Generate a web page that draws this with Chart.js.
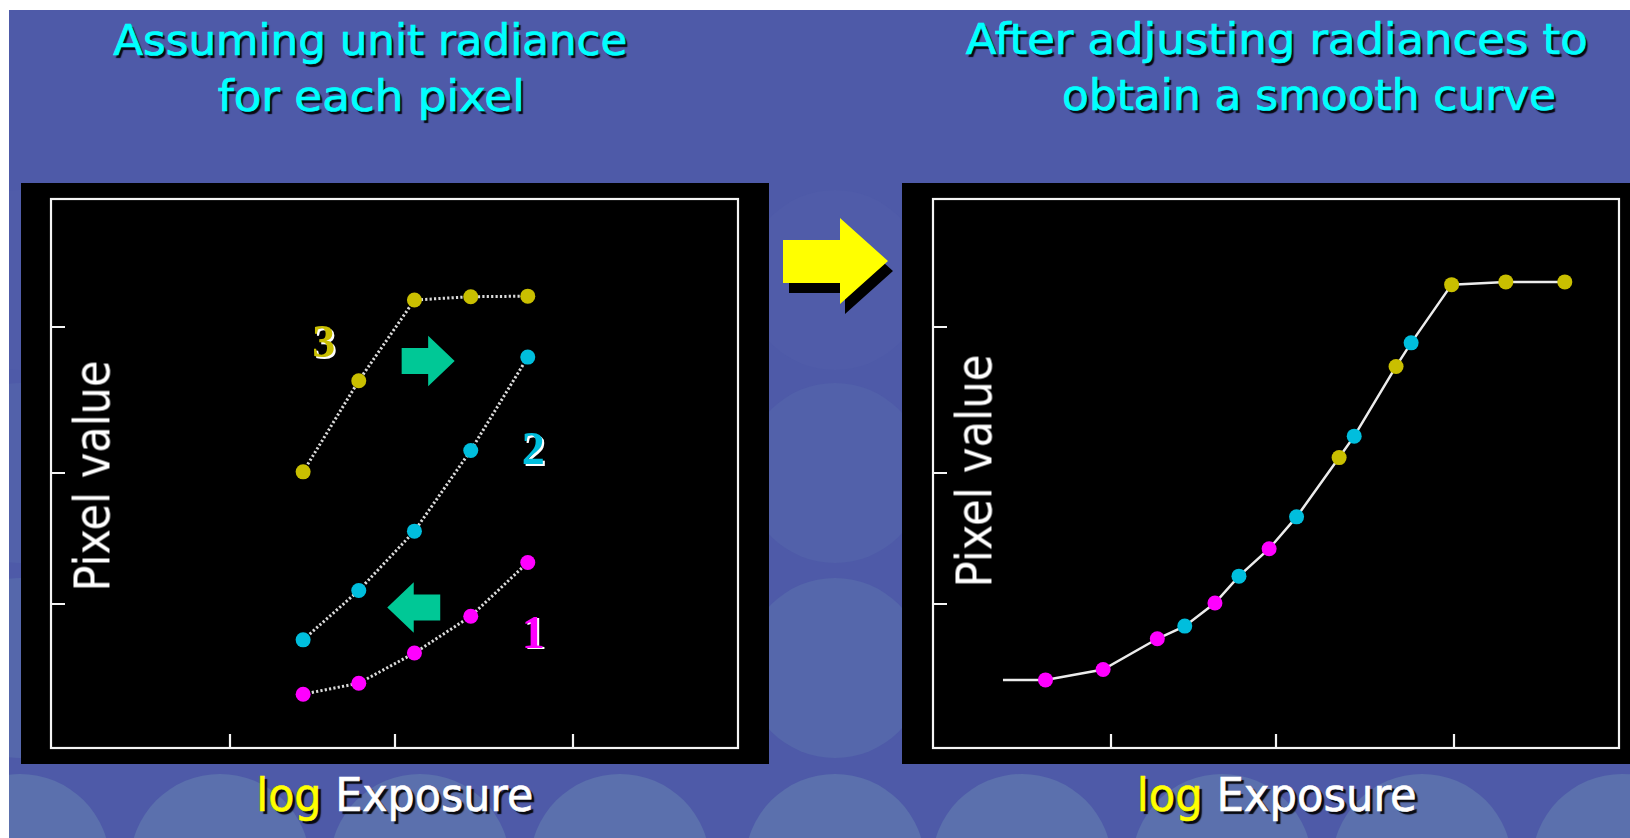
<!DOCTYPE html>
<html>
<head>
<meta charset="utf-8">
<title>Response curve recovery</title>
<script src="https://cdn.jsdelivr.net/npm/chart.js@4.4.1/dist/chart.umd.min.js"></script>
<style>
  html, body { margin: 0; padding: 0; background: #ffffff; }
  body { width: 1630px; height: 838px; overflow: hidden; position: relative; }
  #bg { position: absolute; left: 0; top: 0; }
  .panel { position: absolute; background: #000; }
  .panel canvas { display: block; }
  .txt {
    position: absolute; white-space: nowrap; line-height: 1;
    font-family: "DejaVu Sans Condensed", "DejaVu Sans", sans-serif;
    transform-origin: 50% 50%;
  }
  .title { color: #00ffff; -webkit-text-stroke: 0.7px #00ffff; text-shadow: 2px 3px 1px rgba(0,0,0,0.9); }
  .xlab { color: #ffffff; -webkit-text-stroke: 0.6px #ffffff; text-shadow: 3px 3px 1px rgba(0,0,0,0.9); }
  .xlab .log { color: #ffff00; -webkit-text-stroke: 0.6px #ffff00; }
  .ylab { color: #ffffff; }
</style>
</head>
<body>

<svg id="bg" width="1630" height="838" xmlns="http://www.w3.org/2000/svg">
  <defs>
    <clipPath id="slideClip"><rect x="9" y="10" width="1621" height="828"/></clipPath>
  </defs>
  <g clip-path="url(#slideClip)">
    <rect x="9" y="10" width="1621" height="828" fill="rgb(78,90,168)"/>
    <g id="dots"></g>
  </g>
  <!-- big arrow between the two panels -->
  <polygon points="789,250 845,250 845,228 893,271 845,314 845,293 789,293" fill="#000"/>
  <polygon points="783,240 840,240 840,218 888,261 840,304 840,283 783,283" fill="#ffff00"/>
</svg>

<div class="panel" style="left:21px;top:183px;width:748px;height:581px;">
  <canvas id="leftChart" width="748" height="581" style="width:748px;height:581px"></canvas>
</div>
<div class="panel" style="left:902px;top:183px;width:728px;height:581px;">
  <canvas id="rightChart" width="728" height="581" style="width:728px;height:581px"></canvas>
</div>

<div class="txt title" data-cx="370" data-base="55" data-w="514" data-fs="43">Assuming unit radiance</div>
<div class="txt title" data-cx="371.5" data-base="111" data-w="307" data-fs="43">for each pixel</div>
<div class="txt title" data-cx="1277" data-base="54" data-w="622" data-fs="43">After adjusting radiances to</div>
<div class="txt title" data-cx="1309" data-base="110" data-w="494" data-fs="43">obtain a smooth curve</div>

<div class="txt xlab" data-cx="394.5" data-base="810.7" data-w="277" data-fs="47"><span class="log">log</span> Exposure</div>
<div class="txt xlab" data-cx="1277" data-base="810.7" data-w="280" data-fs="47"><span class="log">log</span> Exposure</div>

<div class="txt ylab" data-cx="92.7" data-cy="476" data-w="231" data-fs="50" data-rot="1">Pixel value</div>
<div class="txt ylab" data-cx="974" data-cy="470.5" data-w="233" data-fs="50" data-rot="1">Pixel value</div>

<script>
// ---- values (both axes run 0..100 across the framed plot area) ----

// Left panel: every sample assumed to have unit radiance, so all share the same exposures
const exposureSteps = [36.7, 44.8, 52.9, 61.1, 69.4];
const pixel1Raw = [9.8, 11.8, 17.3, 24.0, 33.8];
const pixel2Raw = [19.7, 28.7, 39.5, 54.2, 71.2];
const pixel3Raw = [50.3, 66.9, 81.6, 82.2, 82.3];

// Right panel: exposures after the radiances were adjusted
const pixel1Exposure = [16.4, 24.8, 32.7, 41.1, 49.0];
const pixel1Value    = [12.4, 14.3, 19.9, 26.4, 36.3];
const pixel2Exposure = [36.7, 44.6, 53.0, 61.4, 69.7];
const pixel2Value    = [22.2, 31.3, 42.1, 56.8, 73.8];
const pixel3Exposure = [59.2, 67.5, 75.6, 83.5, 92.1];
const pixel3Value    = [52.9, 69.5, 84.4, 84.9, 84.9];
const curveStart     = [10.2, 12.4];

// tick marks on both frames
const xTickValues = [26, 50, 76];
const yTickValues = [26.3, 50.1, 76.6];

// sample numbers and the shift arrows on the left panel (data coordinates)
const sampleNames   = ['1', '2', '3'];
const sampleLabelX  = [70.2, 70.2, 39.7];
const sampleLabelY  = [21.1, 54.5, 74.0];
const shiftArrowX   = [54.9, 52.8];
const shiftArrowY   = [70.5, 25.6];
const shiftArrowDir = [1, -1];

// ---- styles ----
const COLORS = ['#ff00ff', '#00bedd', '#c9bf00'];
const ARROW_GREEN = '#00c896';

// background circles, fading out towards the top
(function () {
  const g = document.getElementById('dots');
  const rows = [[280, 'rgb(80,92,169)'], [473, 'rgb(82,97,170)'], [668, 'rgb(85,103,171)'], [864, 'rgb(91,112,173)']];
  const cols = [20, 220, 420, 620, 835, 1022, 1222, 1422, 1622];
  rows.forEach(([cy, fill]) => cols.forEach(cx => {
    const c = document.createElementNS('http://www.w3.org/2000/svg', 'circle');
    c.setAttribute('cx', cx); c.setAttribute('cy', cy); c.setAttribute('r', 90);
    c.setAttribute('fill', fill);
    g.appendChild(c);
  }));
})();

const zip = (xs, ys) => xs.map((x, i) => ({ x, y: ys[i] }));

const framePlugin = {
  id: 'frame',
  afterDraw(chart) {
    const { ctx, chartArea: a, scales: { x, y } } = chart;
    ctx.save();
    ctx.strokeStyle = '#f4f4f4';
    ctx.lineWidth = 2.2;
    ctx.strokeRect(a.left, a.top, a.right - a.left, a.bottom - a.top);
    ctx.beginPath();
    xTickValues.forEach(v => {
      const px = Math.round(x.getPixelForValue(v));
      ctx.moveTo(px, a.bottom); ctx.lineTo(px, a.bottom - 14);
    });
    yTickValues.forEach(v => {
      const py = Math.round(y.getPixelForValue(v));
      ctx.moveTo(a.left, py); ctx.lineTo(a.left + 14, py);
    });
    ctx.stroke();
    ctx.restore();
  }
};

const notesPlugin = {
  id: 'notes',
  afterDatasetsDraw(chart) {
    const { ctx, scales: { x, y } } = chart;
    ctx.save();
    shiftArrowX.forEach((ax, i) => {
      const cx = x.getPixelForValue(ax), cy = y.getPixelForValue(shiftArrowY[i]);
      const d = shiftArrowDir[i], L = 26.5, bh = 13, hh = 25.3;
      ctx.beginPath();
      ctx.moveTo(cx - L * d, cy - bh);
      ctx.lineTo(cx, cy - bh);
      ctx.lineTo(cx, cy - hh);
      ctx.lineTo(cx + L * d, cy);
      ctx.lineTo(cx, cy + hh);
      ctx.lineTo(cx, cy + bh);
      ctx.lineTo(cx - L * d, cy + bh);
      ctx.closePath();
      ctx.fillStyle = ARROW_GREEN;
      ctx.fill();
    });
    ctx.font = 'bold 46px "Liberation Serif", "DejaVu Serif", serif';
    ctx.textAlign = 'center';
    ctx.textBaseline = 'alphabetic';
    sampleNames.forEach((name, i) => {
      const cx = x.getPixelForValue(sampleLabelX[i]);
      const by = y.getPixelForValue(sampleLabelY[i]) + 15.5;
      ctx.fillStyle = '#ffffff';
      ctx.fillText(name, cx + 2, by + 1.5);
      ctx.fillStyle = COLORS[i];
      ctx.fillText(name, cx, by);
    });
    ctx.restore();
  }
};

const axisOpts = { type: 'linear', min: 0, max: 100, display: false };

function baseOptions(padding) {
  return {
    responsive: false,
    animation: false,
    events: [],
    layout: { padding },
    scales: { x: { ...axisOpts }, y: { ...axisOpts } },
    plugins: { legend: { display: false }, tooltip: { enabled: false } }
  };
}

// Left: dotted traces, one per pixel
new Chart(document.getElementById('leftChart'), {
  type: 'line',
  data: {
    datasets: [pixel1Raw, pixel2Raw, pixel3Raw].map((vals, i) => ({
      label: 'Pixel ' + sampleNames[i],
      data: zip(exposureSteps, vals),
      borderColor: '#dadada',
      borderWidth: 3,
      borderDash: [2.2, 2.2],
      borderCapStyle: 'butt',
      tension: 0,
      pointRadius: 7.5,
      pointBorderWidth: 0,
      pointBackgroundColor: COLORS[i],
      pointBorderColor: COLORS[i]
    }))
  },
  options: baseOptions({ left: 30, right: 31, top: 16, bottom: 16 }),
  plugins: [framePlugin, notesPlugin]
});

// Right: the recovered curve through all samples
const pieces = [
  zip(pixel1Exposure, pixel1Value),
  zip(pixel2Exposure, pixel2Value),
  zip(pixel3Exposure, pixel3Value)
];
const curve = [{ x: curveStart[0], y: curveStart[1] }]
  .concat(pieces[0], pieces[1], pieces[2])
  .sort((a, b) => a.x - b.x);

new Chart(document.getElementById('rightChart'), {
  type: 'line',
  data: {
    datasets: pieces.map((pts, i) => ({
      label: 'Pixel ' + sampleNames[i],
      data: pts,
      showLine: false,
      pointRadius: 7.5,
      pointBorderWidth: 0,
      pointBackgroundColor: COLORS[i],
      pointBorderColor: COLORS[i],
      order: 0
    })).concat([{
      label: 'Response curve',
      data: curve,
      borderColor: '#ececec',
      borderWidth: 2.5,
      tension: 0,
      pointRadius: 0,
      order: 5
    }])
  },
  options: baseOptions({ left: 31, right: 11, top: 16, bottom: 16 }),
  plugins: [framePlugin]
});

// text placement: centre each label and squeeze it to its width
function placeText() {
  document.querySelectorAll('.txt').forEach(el => {
    const fs = parseFloat(el.dataset.fs);
    el.style.fontSize = fs + 'px';
    el.style.transform = 'none';
    const w = el.getBoundingClientRect().width;
    const s = parseFloat(el.dataset.w) / w;
    const cx = parseFloat(el.dataset.cx);
    el.style.left = (cx - w / 2) + 'px';
    if (el.dataset.rot) {
      el.style.top = (parseFloat(el.dataset.cy) - fs / 2) + 'px';
      el.style.transform = 'rotate(-90deg) scaleX(' + s + ')';
    } else {
      el.style.top = (parseFloat(el.dataset.base) - 0.846 * fs) + 'px';
      el.style.transform = 'scaleX(' + s + ')';
    }
  });
}
placeText();
if (document.fonts && document.fonts.ready) document.fonts.ready.then(placeText);
</script>
</body>
</html>
